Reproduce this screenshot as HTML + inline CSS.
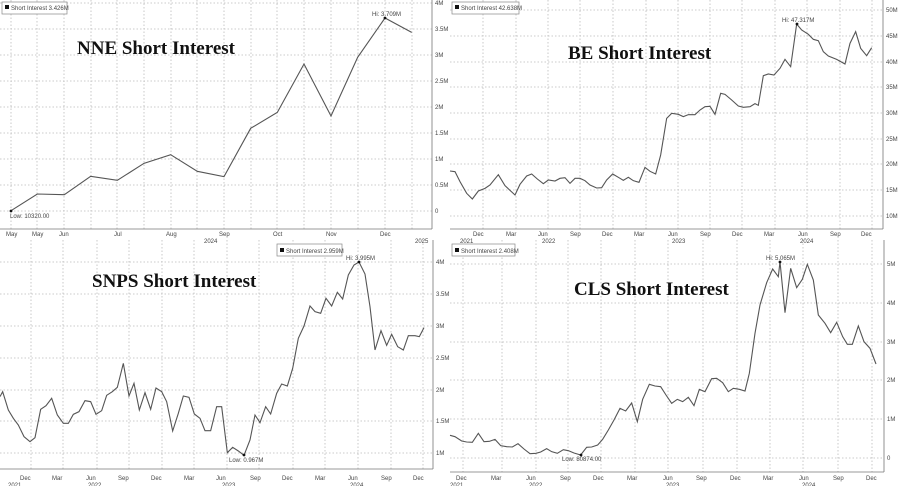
<!DOCTYPE html>
<html><head><style>
html,body{margin:0;padding:0;background:#fff;}
svg{display:block;}
.g line{stroke:#bbb;stroke-width:0.8;stroke-dasharray:1.5 2;}
.t{font-family:"Liberation Sans",sans-serif;font-size:6px;fill:#444;}
.ti{font-family:"Liberation Serif",serif;font-weight:bold;font-size:19px;fill:#111;}
.ln{fill:none;stroke:#555;stroke-width:1.1;vector-effect:non-scaling-stroke;}
</style></head><body>
<svg width="900" height="486" viewBox="0 0 900 486" xmlns="http://www.w3.org/2000/svg">
<rect width="900" height="486" fill="#fff"/>

<!-- NNE -->
<g class="g">
<line x1="0" y1="3" x2="432" y2="3"/><line x1="0" y1="29" x2="432" y2="29"/><line x1="0" y1="55" x2="432" y2="55"/><line x1="0" y1="81" x2="432" y2="81"/><line x1="0" y1="107" x2="432" y2="107"/><line x1="0" y1="133" x2="432" y2="133"/><line x1="0" y1="159" x2="432" y2="159"/><line x1="0" y1="185" x2="432" y2="185"/><line x1="0" y1="211" x2="432" y2="211"/>
<line x1="11" y1="0" x2="11" y2="229"/><line x1="37" y1="0" x2="37" y2="229"/><line x1="64" y1="0" x2="64" y2="229"/><line x1="91" y1="0" x2="91" y2="229"/><line x1="117" y1="0" x2="117" y2="229"/><line x1="144" y1="0" x2="144" y2="229"/><line x1="171" y1="0" x2="171" y2="229"/><line x1="197" y1="0" x2="197" y2="229"/><line x1="224" y1="0" x2="224" y2="229"/><line x1="251" y1="0" x2="251" y2="229"/><line x1="277" y1="0" x2="277" y2="229"/><line x1="304" y1="0" x2="304" y2="229"/><line x1="331" y1="0" x2="331" y2="229"/><line x1="358" y1="0" x2="358" y2="229"/><line x1="385" y1="0" x2="385" y2="229"/><line x1="412" y1="0" x2="412" y2="229"/>
</g>
<line x1="0" y1="229" x2="432" y2="229" stroke="#777" stroke-width="0.8"/>
<line x1="432" y1="0" x2="432" y2="229" stroke="#777" stroke-width="0.8"/>
<g class="t"><text x="435" y="5">4M</text><text x="435" y="31">3.5M</text><text x="435" y="57">3M</text><text x="435" y="83">2.5M</text><text x="435" y="109">2M</text><text x="435" y="135">1.5M</text><text x="435" y="161">1M</text><text x="435" y="187">0.5M</text><text x="435" y="213">0</text>
<text x="6" y="236">May</text><text x="32" y="236">May</text><text x="59" y="236">Jun</text><text x="114" y="236">Jul</text><text x="166" y="236">Aug</text><text x="219" y="236">Sep</text><text x="273" y="236">Oct</text><text x="326" y="236">Nov</text><text x="380" y="236">Dec</text><text x="415" y="243">2025</text><text x="204" y="243">2024</text>
<text x="10" y="218">Low: 10320.00</text><text x="372" y="16">Hi: 3.709M</text></g>
<g transform="scale(0.33333)"><polyline class="ln" points="33,632 112,582 193,584 272,529 352,541 432,490 512,464 592,514 672,530 752,385 832,337 912,192 993,348 1073,172 1155,54 1235,97"/></g>
<circle cx="11" cy="211" r="1.4" fill="#111"/><circle cx="385" cy="18" r="1.4" fill="#111"/>
<rect x="2" y="2" width="65" height="12" fill="#fff" stroke="#888" stroke-width="0.7"/><rect x="5" y="5" width="4" height="4" fill="#111"/>
<text class="t" x="11" y="10">Short Interest 3.426M</text>
<text class="ti" x="77" y="54">NNE Short Interest</text>

<!-- BE -->
<g transform="translate(450,0)">
<g class="g">
<line x1="0" y1="10" x2="433" y2="10"/><line x1="0" y1="36" x2="433" y2="36"/><line x1="0" y1="62" x2="433" y2="62"/><line x1="0" y1="87" x2="433" y2="87"/><line x1="0" y1="113" x2="433" y2="113"/><line x1="0" y1="139" x2="433" y2="139"/><line x1="0" y1="164" x2="433" y2="164"/><line x1="0" y1="190" x2="433" y2="190"/><line x1="0" y1="216" x2="433" y2="216"/>
<line x1="33" y1="0" x2="33" y2="229"/><line x1="66" y1="0" x2="66" y2="229"/><line x1="98" y1="0" x2="98" y2="229"/><line x1="130" y1="0" x2="130" y2="229"/><line x1="163" y1="0" x2="163" y2="229"/><line x1="196" y1="0" x2="196" y2="229"/><line x1="228" y1="0" x2="228" y2="229"/><line x1="260" y1="0" x2="260" y2="229"/><line x1="292" y1="0" x2="292" y2="229"/><line x1="325" y1="0" x2="325" y2="229"/><line x1="357" y1="0" x2="357" y2="229"/><line x1="390" y1="0" x2="390" y2="229"/><line x1="422" y1="0" x2="422" y2="229"/>
</g>
<line x1="0" y1="229" x2="433" y2="229" stroke="#777" stroke-width="0.8"/>
<line x1="433" y1="0" x2="433" y2="229" stroke="#777" stroke-width="0.8"/>
<g class="t"><text x="436" y="12">50M</text><text x="436" y="38">45M</text><text x="436" y="64">40M</text><text x="436" y="89">35M</text><text x="436" y="115">30M</text><text x="436" y="141">25M</text><text x="436" y="166">20M</text><text x="436" y="192">15M</text><text x="436" y="218">10M</text>
<text x="23" y="236">Dec</text><text x="56" y="236">Mar</text><text x="88" y="236">Jun</text><text x="120" y="236">Sep</text><text x="152" y="236">Dec</text><text x="184" y="236">Mar</text><text x="218" y="236">Jun</text><text x="250" y="236">Sep</text><text x="282" y="236">Dec</text><text x="314" y="236">Mar</text><text x="348" y="236">Jun</text><text x="380" y="236">Sep</text><text x="411" y="236">Dec</text>
<text x="10" y="243">2021</text><text x="92" y="243">2022</text><text x="222" y="243">2023</text><text x="350" y="243">2024</text>
<text x="332" y="22">Hi: 47.317M</text></g>
<g transform="scale(0.33333)"><polyline class="ln" points="0,513 15,515 30,545 50,580 67,597 85,573 105,565 120,555 145,524 165,557 195,585 210,553 230,528 245,522 262,537 280,551 295,540 315,543 330,535 345,533 360,550 375,535 390,535 405,542 420,555 440,564 455,563 470,540 488,522 505,532 520,541 535,532 550,542 567,547 585,502 600,514 617,522 632,465 650,355 665,340 685,343 700,350 715,344 735,344 750,330 765,320 780,319 795,343 812,280 825,283 845,300 865,318 880,322 900,320 915,311 925,316 940,227 955,222 972,225 990,205 1005,178 1022,200 1040,72 1055,90 1075,103 1090,118 1105,122 1120,155 1135,168 1160,178 1185,192 1200,130 1217,95 1232,145 1250,167 1265,143"/></g>
<circle cx="347" cy="24" r="1.4" fill="#111"/>
<rect x="2" y="2" width="67" height="12" fill="#fff" stroke="#888" stroke-width="0.7"/><rect x="5" y="5" width="4" height="4" fill="#111"/>
<text class="t" x="11" y="10">Short Interest 42.638M</text>
<text class="ti" x="118" y="59">BE Short Interest</text>
</g>

<!-- SNPS -->
<g transform="translate(0,240)">
<g class="g">
<line x1="0" y1="22" x2="433" y2="22"/><line x1="0" y1="54" x2="433" y2="54"/><line x1="0" y1="86" x2="433" y2="86"/><line x1="0" y1="118" x2="433" y2="118"/><line x1="0" y1="150" x2="433" y2="150"/><line x1="0" y1="181" x2="433" y2="181"/><line x1="0" y1="213" x2="433" y2="213"/>
<line x1="31" y1="0" x2="31" y2="229"/><line x1="63" y1="0" x2="63" y2="229"/><line x1="97" y1="0" x2="97" y2="229"/><line x1="129" y1="0" x2="129" y2="229"/><line x1="162" y1="0" x2="162" y2="229"/><line x1="194" y1="0" x2="194" y2="229"/><line x1="227" y1="0" x2="227" y2="229"/><line x1="259" y1="0" x2="259" y2="229"/><line x1="293" y1="0" x2="293" y2="229"/><line x1="325" y1="0" x2="325" y2="229"/><line x1="358" y1="0" x2="358" y2="229"/><line x1="391" y1="0" x2="391" y2="229"/><line x1="423" y1="0" x2="423" y2="229"/>
</g>
<line x1="0" y1="229" x2="433" y2="229" stroke="#777" stroke-width="0.8"/>
<line x1="433" y1="0" x2="433" y2="229" stroke="#777" stroke-width="0.8"/>
<g class="t"><text x="436" y="24">4M</text><text x="436" y="56">3.5M</text><text x="436" y="88">3M</text><text x="436" y="120">2.5M</text><text x="436" y="152">2M</text><text x="436" y="183">1.5M</text><text x="436" y="215">1M</text>
<text x="20" y="240">Dec</text><text x="52" y="240">Mar</text><text x="86" y="240">Jun</text><text x="118" y="240">Sep</text><text x="151" y="240">Dec</text><text x="184" y="240">Mar</text><text x="216" y="240">Jun</text><text x="250" y="240">Sep</text><text x="282" y="240">Dec</text><text x="315" y="240">Mar</text><text x="348" y="240">Jun</text><text x="381" y="240">Sep</text><text x="413" y="240">Dec</text>
<text x="8" y="247">2021</text><text x="88" y="247">2022</text><text x="222" y="247">2023</text><text x="350" y="247">2024</text>
<text x="229" y="222">Low: 0.967M</text><text x="346" y="20">Hi: 3.995M</text></g>
<g transform="scale(0.33333)"><polyline class="ln" points="0,470 8,455 25,510 40,535 55,555 72,590 90,605 105,593 122,508 138,497 155,475 172,525 190,550 205,550 220,523 237,515 255,482 272,485 288,523 305,512 320,466 337,455 352,442 370,370 387,468 402,430 418,510 435,458 452,508 468,444 485,455 500,485 518,573 535,520 550,468 567,472 583,522 600,535 615,572 632,572 650,500 665,500 682,638 698,622 715,633 732,646 750,600 765,525 780,548 797,500 812,522 830,460 845,432 862,438 878,385 895,295 912,258 930,198 945,215 962,220 978,175 995,198 1012,157 1028,177 1045,105 1062,75 1077,66 1095,102 1110,200 1125,330 1143,272 1160,316 1175,283 1193,320 1210,330 1225,287 1245,287 1258,290 1272,263"/></g>
<circle cx="244" cy="215" r="1.4" fill="#111"/><circle cx="359" cy="22" r="1.4" fill="#111"/>
<rect x="277" y="4" width="65" height="12" fill="#fff" stroke="#888" stroke-width="0.7"/><rect x="280" y="8" width="4" height="4" fill="#111"/>
<text class="t" x="286" y="13">Short Interest 2.959M</text>
<text class="ti" x="92" y="47">SNPS Short Interest</text>
</g>

<!-- CLS -->
<g transform="translate(450,240)">
<g class="g">
<line x1="0" y1="24" x2="434" y2="24"/><line x1="0" y1="63" x2="434" y2="63"/><line x1="0" y1="102" x2="434" y2="102"/><line x1="0" y1="140" x2="434" y2="140"/><line x1="0" y1="179" x2="434" y2="179"/><line x1="0" y1="218" x2="434" y2="218"/>
<line x1="13" y1="0" x2="13" y2="232"/><line x1="52" y1="0" x2="52" y2="232"/><line x1="86" y1="0" x2="86" y2="232"/><line x1="118" y1="0" x2="118" y2="232"/><line x1="151" y1="0" x2="151" y2="232"/><line x1="185" y1="0" x2="185" y2="232"/><line x1="218" y1="0" x2="218" y2="232"/><line x1="253" y1="0" x2="253" y2="232"/><line x1="287" y1="0" x2="287" y2="232"/><line x1="320" y1="0" x2="320" y2="232"/><line x1="353" y1="0" x2="353" y2="232"/><line x1="388" y1="0" x2="388" y2="232"/><line x1="422" y1="0" x2="422" y2="232"/>
</g>
<line x1="0" y1="232" x2="434" y2="232" stroke="#777" stroke-width="0.8"/>
<line x1="434" y1="0" x2="434" y2="232" stroke="#777" stroke-width="0.8"/>
<g class="t"><text x="437" y="26">5M</text><text x="437" y="65">4M</text><text x="437" y="104">3M</text><text x="437" y="142">2M</text><text x="437" y="181">1M</text><text x="437" y="220">0</text>
<text x="6" y="240">Dec</text><text x="41" y="240">Mar</text><text x="76" y="240">Jun</text><text x="110" y="240">Sep</text><text x="143" y="240">Dec</text><text x="177" y="240">Mar</text><text x="213" y="240">Jun</text><text x="246" y="240">Sep</text><text x="280" y="240">Dec</text><text x="313" y="240">Mar</text><text x="349" y="240">Jun</text><text x="383" y="240">Sep</text><text x="416" y="240">Dec</text>
<text x="0" y="247">2021</text><text x="79" y="247">2022</text><text x="216" y="247">2023</text><text x="352" y="247">2024</text>
<text x="112" y="221">Low: 80874.00</text><text x="316" y="20">Hi: 5.065M</text></g>
<g transform="scale(0.33333)"><polyline class="ln" points="0,586 15,590 35,603 50,606 67,607 85,580 102,605 118,604 135,598 152,617 170,620 187,621 204,611 222,627 240,641 258,640 272,636 290,626 305,635 322,640 340,629 355,632 372,639 392,645 410,622 425,621 443,615 458,598 475,570 492,540 510,505 527,513 545,489 562,545 578,478 598,433 615,438 632,440 648,465 665,490 682,478 698,485 715,472 732,497 748,448 765,455 785,416 800,415 818,428 835,455 850,445 868,448 885,453 898,400 915,280 930,195 950,128 968,87 985,110 990,65 1005,218 1022,85 1040,143 1057,118 1072,73 1090,120 1105,225 1125,250 1142,278 1160,247 1178,290 1192,313 1207,313 1225,258 1242,305 1260,325 1278,372"/></g>
<circle cx="131" cy="215" r="1.4" fill="#111"/><circle cx="330" cy="22" r="1.4" fill="#111"/>
<rect x="2" y="4" width="63" height="12" fill="#fff" stroke="#888" stroke-width="0.7"/><rect x="5" y="8" width="4" height="4" fill="#111"/>
<text class="t" x="11" y="13">Short Interest 2.408M</text>
<text class="ti" x="124" y="55">CLS Short Interest</text>
</g>
</svg>
</body></html>
